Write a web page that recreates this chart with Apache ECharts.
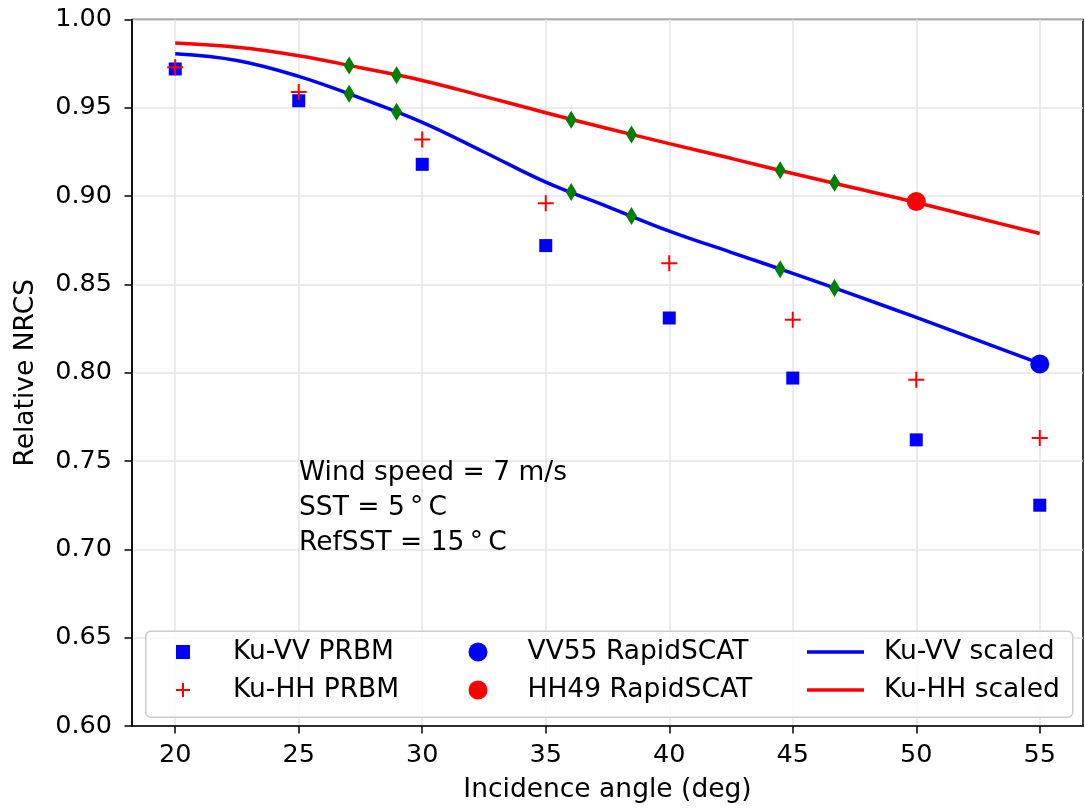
<!DOCTYPE html>
<html>
<head>
<meta charset="utf-8">
<script src="https://cdn.jsdelivr.net/npm/echarts@6/dist/echarts.min.js"></script>
<style>html,body{margin:0;padding:0;background:#fff}#chart{width:1085px;height:809px}</style>
</head>
<body>
<div id="chart"></div>
<script>
// ---- data ----
const prbmAngles = [20, 25, 30, 35, 40, 45, 50, 55];
const kuVVPrbm = [0.972, 0.954, 0.918, 0.872, 0.831, 0.797, 0.762, 0.725];
const kuHHPrbm = [0.973, 0.959, 0.932, 0.896, 0.862, 0.830, 0.796, 0.763];
const vv55Angle = [55];
const vv55Value = [0.805];
const hh49Angle = [50];
const hh49Value = [0.897];
const curveAngles = [20, 22.5, 25, 27.5, 30, 32.5, 35, 37.5, 40, 42.5, 45, 47.5, 50, 52.5, 55];
const kuVVScaled = [0.9806, 0.9768, 0.9678, 0.9555, 0.9418, 0.925, 0.9079, 0.8941, 0.8802, 0.8682, 0.8563, 0.8439, 0.8313, 0.8183, 0.8053];
const kuHHScaled = [0.9867, 0.9843, 0.9795, 0.9727, 0.9655, 0.9565, 0.9472, 0.9383, 0.9297, 0.9214, 0.9128, 0.9046, 0.8964, 0.8876, 0.8788];
const diamondAngles = [27.04, 28.96, 36.03, 38.47, 44.49, 46.69];
const vvDiamonds = [0.958, 0.9477, 0.9023, 0.8887, 0.8586, 0.848];
const hhDiamonds = [0.974, 0.9684, 0.9433, 0.9349, 0.9147, 0.9076];
const xTicks = [20, 25, 30, 35, 40, 45, 50, 55];
const annotationLines = ['Wind speed = 7 m/s', 'SST = 5\u2009°\u2009C', 'RefSST = 15\u2009°\u2009C'];

const zip = (xs, ys) => xs.map((x, i) => [x, ys[i]]);
const FONT = 'DejaVu Sans';
const plusPath = 'path://M0,5L10,5M5,0L5,10';
const TXT = 26.5;

const chart = echarts.init(document.getElementById('chart'), null, {renderer: 'canvas'});
const legendText = (padLeft) => ({fontSize: TXT, fontFamily: FONT, color: '#000', lineHeight: 30, padding: [0, 0, 0, padLeft]});
const option = {
  animation: false,
  backgroundColor: '#ffffff',
  textStyle: {fontFamily: FONT, color: '#000'},
  grid: {left: 132, right: 2, top: 19.5, bottom: 81, show: true, borderColor: '#000', borderWidth: 1.5, backgroundColor: 'transparent'},
  xAxis: {
    type: 'value', min: 18.25, max: 56.75,
    name: 'Incidence angle (deg)', nameLocation: 'middle', nameGap: 51,
    nameTextStyle: {fontSize: TXT, fontFamily: FONT, color: '#000'},
    axisLine: {show: true, onZero: false, lineStyle: {color: '#000', width: 1.5}},
    axisTick: {show: true, length: 7.5, lineStyle: {color: '#000', width: 1.5}, customValues: xTicks},
    axisLabel: {fontSize: 25.5, fontFamily: FONT, color: '#000', margin: 16, customValues: xTicks},
    splitLine: {show: true, lineStyle: {color: '#e5e5e5', width: 1.5}}
  },
  yAxis: {
    type: 'value', min: 0.6, max: 1.0, interval: 0.05,
    name: 'Relative NRCS', nameLocation: 'middle', nameGap: 92,
    nameTextStyle: {fontSize: TXT, fontFamily: FONT, color: '#000'},
    axisLine: {show: true, onZero: false, lineStyle: {color: '#000', width: 1.5}},
    axisTick: {show: true, length: 7.5, lineStyle: {color: '#000', width: 1.5}},
    axisLabel: {fontSize: 25.5, fontFamily: FONT, color: '#000', margin: 20, formatter: v => v.toFixed(2)},
    splitLine: {show: true, lineStyle: {color: '#e5e5e5', width: 1.5}}
  },
  legend: [
    {orient: 'vertical', left: 175, top: 637, padding: 0, itemGap: 8, itemWidth: 14, itemHeight: 14, z: 10,
     textStyle: legendText(38),
     data: ['Ku-VV PRBM', 'Ku-HH PRBM']},
    {orient: 'vertical', left: 468.5, top: 637, padding: 0, itemGap: 8, itemWidth: 19, itemHeight: 19, z: 10,
     textStyle: legendText(35),
     data: ['VV55 RapidSCAT', 'HH49 RapidSCAT']},
    {orient: 'vertical', left: 807, top: 637, padding: 0, itemGap: 8, itemWidth: 57, itemHeight: 3.5, z: 10,
     symbolKeepAspect: false,
     textStyle: legendText(15),
     data: [{name: 'Ku-VV scaled', icon: 'rect'}, {name: 'Ku-HH scaled', icon: 'rect'}]}
  ],
  graphic: [
    {type: 'rect', left: 145, top: 630.5, z: 5,
     shape: {width: 927, height: 86, r: 5},
     style: {fill: 'rgba(255,255,255,0.8)', stroke: '#cccccc', lineWidth: 1.5}},
    {type: 'text', left: 299, top: 456, z: 5,
     style: {text: annotationLines.join('\n'), font: TXT + 'px "DejaVu Sans"', lineHeight: 35, fill: '#000'}}
  ],
  series: [
    {name: 'Ku-VV PRBM', type: 'scatter', symbol: 'rect', symbolSize: 13, z: 3,
     itemStyle: {color: '#0000ff', opacity: 1}, data: zip(prbmAngles, kuVVPrbm)},
    {name: 'Ku-HH PRBM', type: 'scatter', symbol: plusPath, symbolSize: 16, z: 3,
     itemStyle: {color: '#ff0000', borderColor: '#ff0000', borderWidth: 2, opacity: 1}, data: zip(prbmAngles, kuHHPrbm)},
    {name: 'VV55 RapidSCAT', type: 'scatter', symbol: 'circle', symbolSize: 19, z: 5,
     itemStyle: {color: '#0000ff', opacity: 1}, data: zip(vv55Angle, vv55Value)},
    {name: 'HH49 RapidSCAT', type: 'scatter', symbol: 'circle', symbolSize: 19, z: 5,
     itemStyle: {color: '#ff0000', opacity: 1}, data: zip(hh49Angle, hh49Value)},
    {name: 'Ku-VV scaled', type: 'line', smooth: 0.4, showSymbol: false, symbol: 'none', z: 2,
     lineStyle: {color: '#0000ff', width: 3.5}, itemStyle: {color: '#0000ff'}, data: zip(curveAngles, kuVVScaled)},
    {name: 'Ku-HH scaled', type: 'line', smooth: 0.4, showSymbol: false, symbol: 'none', z: 2,
     lineStyle: {color: '#ff0000', width: 3.5}, itemStyle: {color: '#ff0000'}, data: zip(curveAngles, kuHHScaled)},
    {name: 'VV diamonds', type: 'scatter', symbol: 'diamond', symbolSize: [11, 18], z: 4,
     itemStyle: {color: '#008000', opacity: 1}, data: zip(diamondAngles, vvDiamonds)},
    {name: 'HH diamonds', type: 'scatter', symbol: 'diamond', symbolSize: [11, 18], z: 4,
     itemStyle: {color: '#008000', opacity: 1}, data: zip(diamondAngles, hhDiamonds)}
  ]
};
chart.setOption(option);
</script>
</body>
</html>
